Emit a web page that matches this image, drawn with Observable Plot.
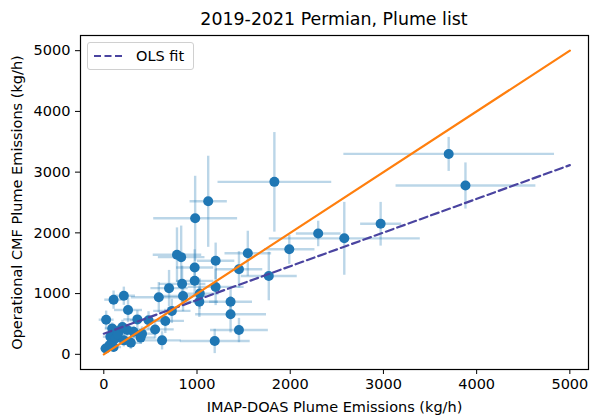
<!DOCTYPE html>
<html>
<head>
<meta charset="utf-8">
<script src="https://cdn.jsdelivr.net/npm/d3@7"></script>
<script src="https://cdn.jsdelivr.net/npm/@observablehq/plot@0.6"></script>
<style>
  html, body { margin: 0; padding: 0; background: #fff; }
  body { width: 592px; height: 418px; overflow: hidden; font-family: "DejaVu Sans", sans-serif; }
  #wrap { position: relative; width: 592px; height: 418px; }
  #title { height: 30px; box-sizing: border-box; padding-left: 80px; padding-right: 4px; padding-top: 11px;
           text-align: center; font-size: 17.4px; line-height: 1; color: #000; white-space: nowrap; }
  #legend { position: absolute; left: 87px; top: 42px; width: 107px; height: 28px; box-sizing: border-box;
            border: 1px solid #d0d0d0; border-radius: 3px; background: rgba(255,255,255,0.85);
            display: flex; align-items: center; font-size: 14.5px; color: #000; }
  #legend svg { margin-left: 6px; margin-right: 12px; }
</style>
</head>
<body>
<div id="wrap">
  <div id="title">2019-2021 Permian, Plume list</div>
  <div id="chart"></div>
  <div id="legend"><svg width="30" height="6"><line x1="0" y1="3" x2="30" y2="3" stroke="#4a44a0" stroke-width="2.2" stroke-dasharray="7,3.5"/></svg><span>OLS fit</span></div>
</div>
<script>
// IMAP-DOAS (x) and operational CMF (y) plume emissions, kg/h, with 1-sigma errors
const imap    = [3700,3880,2580,2970,2300,1990,1830,1120,980,785,830,1200,1545,975,1450,1770,975,840,1200,700,590,850,1025,1360,1030,215,105,260,730,1360,25,360,480,660,550,1450,90,160,250,320,410,70,125,215,395,290,625,1190,20,105,60,150,200];
const cmf     = [3300,2780,1910,2150,1990,1730,2840,2520,2240,1640,1600,1540,1665,1430,1400,1290,1210,1160,1110,1090,940,960,865,865,1000,965,900,730,715,660,570,575,560,550,410,400,425,385,400,370,340,290,260,230,275,190,230,220,95,120,150,330,450];
const imapErr = [1130,750,810,220,240,270,610,200,450,260,250,200,250,200,250,300,200,250,300,200,300,250,200,230,200,120,100,150,200,380,80,150,200,200,200,310,80,100,100,120,150,80,100,100,150,120,200,375,60,80,60,80,100];
const cmfErr  = [280,380,600,360,210,240,820,750,700,450,520,300,370,300,300,400,250,300,300,300,250,250,250,250,250,150,150,200,200,300,150,150,150,200,150,200,100,100,100,100,120,80,100,100,100,100,150,200,60,80,80,100,120];

// reference 1:1 line and OLS fit line endpoints
const oneX = [0, 5000], oneY = [0, 5000];
const olsX = [0, 5000], olsY = [340, 3115];

const xTicks = [0, 1000, 2000, 3000, 4000, 5000];
const yTicks = [0, 1000, 2000, 3000, 4000, 5000];

const pts = imap.map((x, i) => ({x, y: cmf[i], xe: imapErr[i], ye: cmfErr[i]}));
const one = oneX.map((x, i) => ({x, y: oneY[i]}));
const ols = olsX.map((x, i) => ({x, y: olsY[i]}));

const blue = "#1f77b4";

const chart = Plot.plot({
  width: 592,
  height: 388,
  marginLeft: 80,
  marginRight: 4,
  marginTop: 5,
  marginBottom: 49,
  style: { fontFamily: "DejaVu Sans, sans-serif", fontSize: "14.5px", color: "#000", background: "#fff", overflow: "visible" },
  x: { domain: [-250, 5200], ticks: xTicks, tickFormat: d => String(d), tickSize: 5, tickPadding: 4, label: null },
  y: { domain: [-250, 5250], ticks: yTicks, tickFormat: d => String(d), tickSize: 5, tickPadding: 5, label: null },
  marks: [
    Plot.link(pts, { x1: d => d.x - d.xe, x2: d => d.x + d.xe, y1: "y", y2: "y", stroke: blue, strokeOpacity: 0.3, strokeWidth: 2.4 }),
    Plot.link(pts, { x1: "x", x2: "x", y1: d => d.y - d.ye, y2: d => d.y + d.ye, stroke: blue, strokeOpacity: 0.3, strokeWidth: 2.4 }),
    Plot.dot(pts, { x: "x", y: "y", r: 5, fill: blue, stroke: "none" }),
    Plot.line(ols, { x: "x", y: "y", stroke: "#4a44a0", strokeWidth: 2.2, strokeDasharray: "8,4" }),
    Plot.line(one, { x: "x", y: "y", stroke: "#ff7f0e", strokeWidth: 2.2 }),
    Plot.frame({ stroke: "#000", strokeWidth: 1.2 }),
    Plot.text(["IMAP-DOAS Plume Emissions (kg/h)"], { frameAnchor: "bottom", dy: 38, lineAnchor: "middle", fontSize: 14.5 }),
    Plot.text(["Operational CMF Plume Emissions (kg/h)"], { frameAnchor: "left", dx: -63, rotate: -90, textAnchor: "middle", lineAnchor: "middle", fontSize: 14.5 })
  ]
});
document.getElementById("chart").appendChild(chart);
</script>
</body>
</html>
